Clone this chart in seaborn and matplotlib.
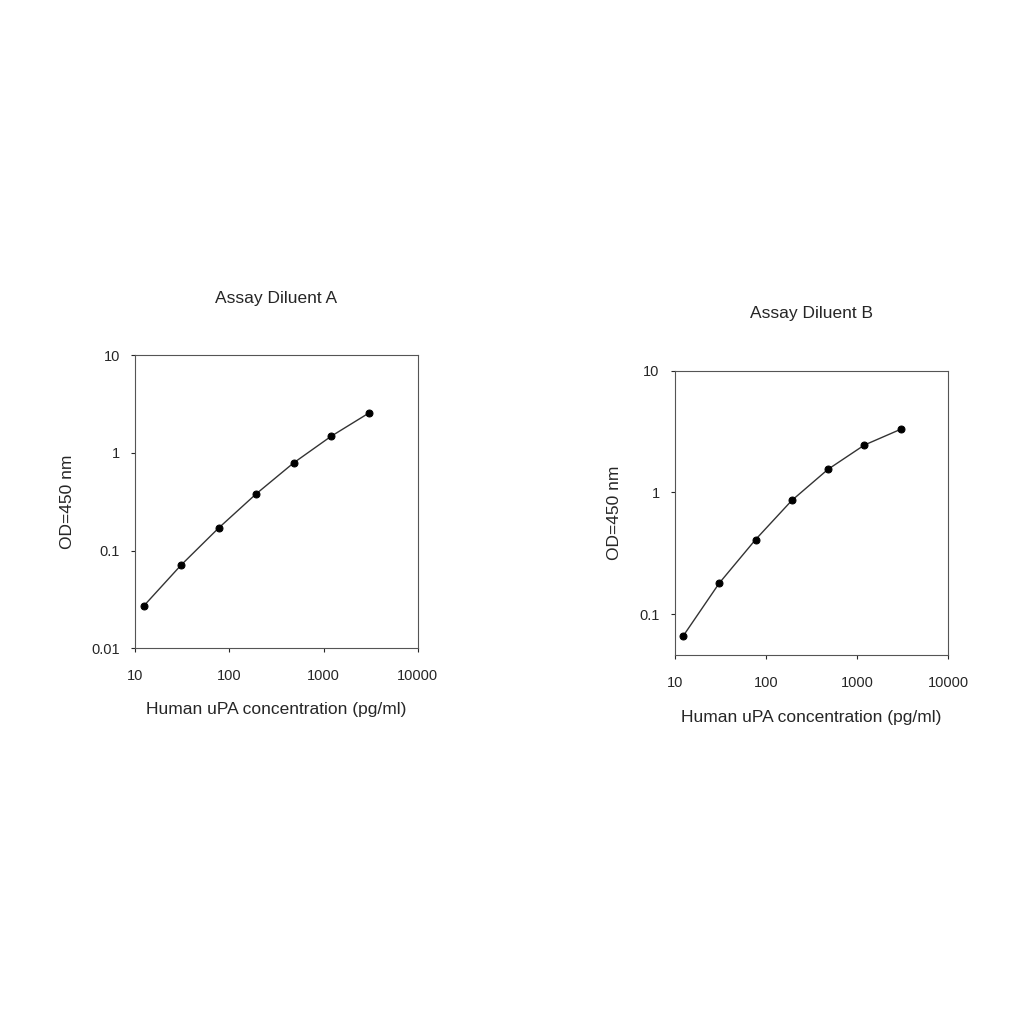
import matplotlib
matplotlib.use('Agg')
import matplotlib.pyplot as plt
import matplotlib.ticker as mticker
import seaborn as sns
import pandas as pd

conc = [12.3, 30.7, 76.8, 192, 480, 1200, 3000]
od_a = [0.027, 0.071, 0.17, 0.38, 0.79, 1.48, 2.55]
od_b = [0.066, 0.18, 0.41, 0.86, 1.55, 2.45, 3.3]

sns.set_style('white')
plt.rcParams['font.family'] = ['Liberation Sans', 'DejaVu Sans']

fig = plt.figure(figsize=(10.24, 10.24), dpi=100)
ax_a = fig.add_axes([0.132, 0.367, 0.276, 0.286])
ax_b = fig.add_axes([0.659, 0.360, 0.267, 0.278])

panels = [(ax_a, od_a, 'Assay Diluent A', (0.01, 10), [0.01, 0.1, 1, 10]),
          (ax_b, od_b, 'Assay Diluent B', (0.046, 10), [0.1, 1, 10])]

for ax, od, title, ylim, yticks in panels:
    df = pd.DataFrame({'conc': conc, 'od': od})
    sns.lineplot(data=df, x='conc', y='od', ax=ax, color='#333333', linewidth=1,
                 marker='o', markersize=5, markerfacecolor='black', markeredgecolor='black')
    ax.set_xscale('log')
    ax.set_yscale('log')
    ax.set_xlim(10, 10000)
    ax.set_ylim(*ylim)
    ax.set_xticks([10, 100, 1000, 10000])
    ax.set_yticks(yticks)
    ax.xaxis.set_major_formatter(mticker.FuncFormatter(lambda v, p: f'{v:g}'))
    ax.yaxis.set_major_formatter(mticker.FuncFormatter(lambda v, p: f'{v:g}'))
    ax.xaxis.set_minor_locator(mticker.NullLocator())
    ax.yaxis.set_minor_locator(mticker.NullLocator())
    ax.tick_params(axis='both', labelsize=10.5, length=3, direction='out', bottom=True, left=True)
    ax.tick_params(axis='x', pad=12)
    ax.tick_params(axis='y', pad=8)
    for s in ax.spines.values():
        s.set_color('#555555')
        s.set_linewidth(0.8)
    ax.set_title(title, fontsize=12.5, pad=38)
    ax.set_xlabel('Human uPA concentration (pg/ml)', fontsize=12.5, labelpad=14)
    ax.set_ylabel('OD=450 nm', fontsize=12.5, labelpad=12)

fig.savefig('out.png', dpi=100)
